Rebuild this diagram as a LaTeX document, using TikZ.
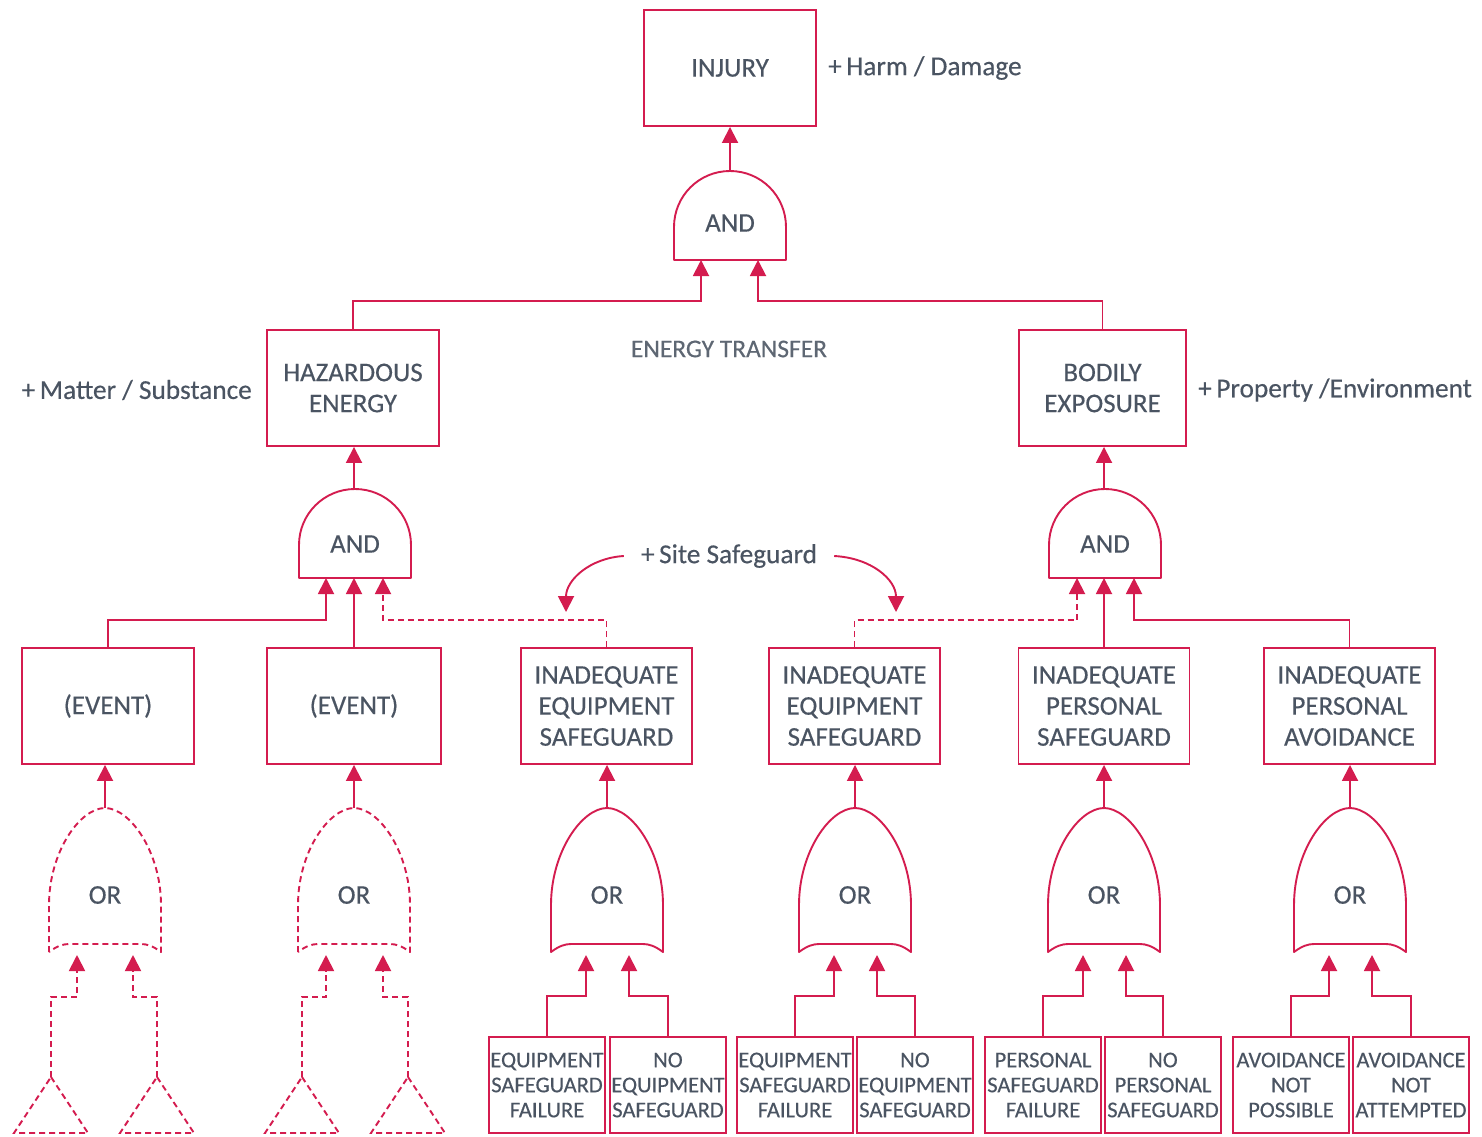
\documentclass[tikz,border=0pt]{standalone}
\usepackage{fontspec}
\setmainfont{Carlito}[FakeBold=0.35]
\usetikzlibrary{arrows.meta}
\definecolor{fred}{HTML}{D41C4F}
\definecolor{ftxt}{HTML}{4A5462}
\definecolor{ftxtl}{HTML}{5E6773}
\tikzset{
  ln/.style={draw=fred, line width=1.9pt},
  dsh/.style={ln, dash pattern=on 6pt off 4pt},
  arr/.style={ln, -{Triangle[width=16pt,length=16pt]}},
  darr/.style={dsh, -{Triangle[width=16pt,length=16pt]}},
  bigbox/.style={draw=fred, line width=1.9pt, minimum width=172pt, minimum height=116pt,
    align=center, text=ftxt, inner sep=0pt, font=\fontsize{27}{31}\selectfont},
  smallbox/.style={draw=fred, line width=1.9pt, minimum width=116pt, minimum height=96pt,
    align=center, text=ftxt, inner sep=0pt, font=\fontsize{22.5}{25}\selectfont,
    execute at begin node={\rule{0pt}{25pt}}},
  lbl/.style={text=ftxt, inner sep=0pt, font=\fontsize{27.3}{31}\selectfont},
  glbl/.style={text=ftxt, inner sep=0pt, font=\fontsize{27}{31}\selectfont},
}
\newcommand\myAND[2]{% center, bottom
  \begin{scope}[shift={(#1,#2)}]
    \draw[ln, line join=round] (-56,0) -- (-56,-33) .. controls (-56,-64) and (-31,-89) .. (0,-89)
      .. controls (31,-89) and (56,-64) .. (56,-33) -- (56,0) -- cycle;
  \end{scope}}
\newcommand\myOR[3]{% center, bottom, style
  \begin{scope}[shift={(#1,#2)}]
    \draw[#3, line join=round] (-56,0) -- (-56,-47) .. controls (-56,-100) and (-25,-144) .. (0,-144)
      .. controls (25,-144) and (56,-100) .. (56,-47) -- (56,0)
      .. controls (48,-6) and (42,-8) .. (36,-8) -- (-36,-8) .. controls (-42,-8) and (-48,-6) .. cycle;
  \end{scope}}
\newcommand\myTRI[2]{% apex x, apex y
  \draw[dsh] (#1,#2) -- ++(37,56) -- ++(-74,0) -- cycle;}
\begin{document}
\begin{tikzpicture}[x=1pt,y=-1pt]
\useasboundingbox (0,0) rectangle (1482,1136);
\fill[white] (0,0) rectangle (1482,1136);

% ---------- top ----------
\node[bigbox] (injury) at (730,68) {INJURY};
\node[lbl, anchor=west] (harm) at (828,68) {+\,Harm / Damage};
\myAND{730}{260}
\node[glbl] (and0) at (730,223) {AND};
\coordinate (a0top) at (730,171);
\coordinate (a0in1) at (701,260);
\coordinate (a0in2) at (758,260);
\draw[arr] (a0top) -- (injury.south);

\node[bigbox] (haz) at (353,388) {HAZARDOUS\\ENERGY};
\node[bigbox, minimum width=167pt] (body) at (1102.5,388) {BODILY\\EXPOSURE};
\node[lbl, anchor=east] (matter) at (252,390) {+\,Matter / Substance};
\node[lbl, anchor=west] (prop) at (1198,390) {+\,Property /Environment};
\node[text=ftxtl, inner sep=0pt, font=\fontsize{25.5}{28}\selectfont] (et) at (729,349) {ENERGY TRANSFER};

\draw[arr] (haz.north) -- ++(0,-28) -| (a0in1);
\draw[arr] (body.north) -- ++(0,-28) -| (a0in2);

% ---------- AND gates level 2 ----------
\myAND{355}{578}
\node[glbl] (and1) at (355,544) {AND};
\coordinate (a1top) at (354,489);
\draw[arr] (a1top) -- (haz.south -| a1top);
\myAND{1105}{578}
\node[glbl] (and2) at (1105,544) {AND};
\coordinate (a2top) at (1104,489);
\draw[arr] (a2top) -- (body.south -| a2top);

\coordinate (a1in1) at (326,578);
\coordinate (a1in2) at (354,578);
\coordinate (a1in3) at (383,578);
\coordinate (a2in1) at (1077,578);
\coordinate (a2in2) at (1104,578);
\coordinate (a2in3) at (1134,578);

% ---------- row boxes ----------
\node[bigbox] (ev1) at (108,706) {(EVENT)};
\node[bigbox, minimum width=174pt] (ev2) at (354,706) {(EVENT)};
\node[bigbox, minimum width=171pt] (b3) at (606.5,706) {INADEQUATE\\EQUIPMENT\\SAFEGUARD};
\node[bigbox, minimum width=171pt] (b4) at (854.5,706) {INADEQUATE\\EQUIPMENT\\SAFEGUARD};
\node[bigbox, minimum width=171pt] (b5) at (1104,706) {INADEQUATE\\PERSONAL\\SAFEGUARD};
\node[bigbox, minimum width=171pt] (b6) at (1349.5,706) {INADEQUATE\\PERSONAL\\AVOIDANCE};

\draw[arr] (ev1.north) -- ++(0,-27) -| (a1in1);
\draw[arr] (ev2.north) -- (a1in2);
\draw[darr] (b3.north) -- ++(0,-27) -| (a1in3);
\draw[darr] (b4.north) -- ++(0,-27) -| (a2in1);
\draw[arr] (b5.north) -- (a2in2);
\draw[arr] (b6.north) -- ++(0,-27) -| (a2in3);

% ---------- site safeguard ----------
\node[lbl, inner xsep=17pt] (site) at (729,556) {+\,Site Safeguard};
\coordinate (siteL) at (566,612);
\coordinate (siteR) at (896,612);
\draw[arr] (site.west) .. controls (590,558) and (566,580) .. (siteL);
\draw[arr] (site.east) .. controls (872,558) and (896,580) .. (siteR);

% ---------- OR gates ----------
\foreach \cx/\st/\nm in {105/dsh/1, 354/dsh/2, 607/ln/3, 855/ln/4, 1104/ln/5, 1350/ln/6}{
  \myOR{\cx}{952}{\st}
  \node[glbl] (or\nm) at (\cx,895) {OR};
  \coordinate (o\nm top) at (\cx,808);
}
\draw[arr] (o1top) -- (ev1.south -| o1top);
\draw[arr] (o2top) -- (ev2.south);
\draw[arr] (o3top) -- (b3.south -| o3top);
\draw[arr] (o4top) -- (b4.south -| o4top);
\draw[arr] (o5top) -- (b5.south);
\draw[arr] (o6top) -- (b6.south -| o6top);

% ---------- dashed inputs (triangles) ----------
\coordinate (o1in1) at (77,955);  \coordinate (o1in2) at (133,955);
\coordinate (o2in1) at (326,955); \coordinate (o2in2) at (383,955);
\coordinate (t1) at (51,1077);  \coordinate (t2) at (157,1077);
\coordinate (t3) at (302,1077); \coordinate (t4) at (408,1077);
\myTRI{51}{1077} \myTRI{157}{1077} \myTRI{302}{1077} \myTRI{408}{1077}
\draw[darr] (t1) -- ++(0,-80) -| (o1in1);
\draw[darr] (t2) -- ++(0,-80) -| (o1in2);
\draw[darr] (t3) -- ++(0,-80) -| (o2in1);
\draw[darr] (t4) -- ++(0,-80) -| (o2in2);

% ---------- bottom boxes ----------
\node[smallbox] (c1) at (547,1085) {EQUIPMENT\\SAFEGUARD\\FAILURE};
\node[smallbox] (c2) at (668,1085) {NO\\EQUIPMENT\\SAFEGUARD};
\node[smallbox] (c3) at (795,1085) {EQUIPMENT\\SAFEGUARD\\FAILURE};
\node[smallbox] (c4) at (915,1085) {NO\\EQUIPMENT\\SAFEGUARD};
\node[smallbox] (c5) at (1043,1085) {PERSONAL\\SAFEGUARD\\FAILURE};
\node[smallbox] (c6) at (1163,1085) {NO\\PERSONAL\\SAFEGUARD};
\node[smallbox] (c7) at (1291,1085) {AVOIDANCE\\NOT\\POSSIBLE};
\node[smallbox] (c8) at (1411,1085) {AVOIDANCE\\NOT\\ATTEMPTED};

\foreach \cx/\l/\r/\nm in {607/c1/c2/3, 855/c3/c4/4, 1104/c5/c6/5, 1350/c7/c8/6}{
  \coordinate (o\nm in1) at (\cx-21,955);
  \coordinate (o\nm in2) at (\cx+22,955);
  \draw[arr] (\l.north) -- ++(0,-40) -| (o\nm in1);
  \draw[arr] (\r.north) -- ++(0,-40) -| (o\nm in2);
}
\end{tikzpicture}
\end{document}
